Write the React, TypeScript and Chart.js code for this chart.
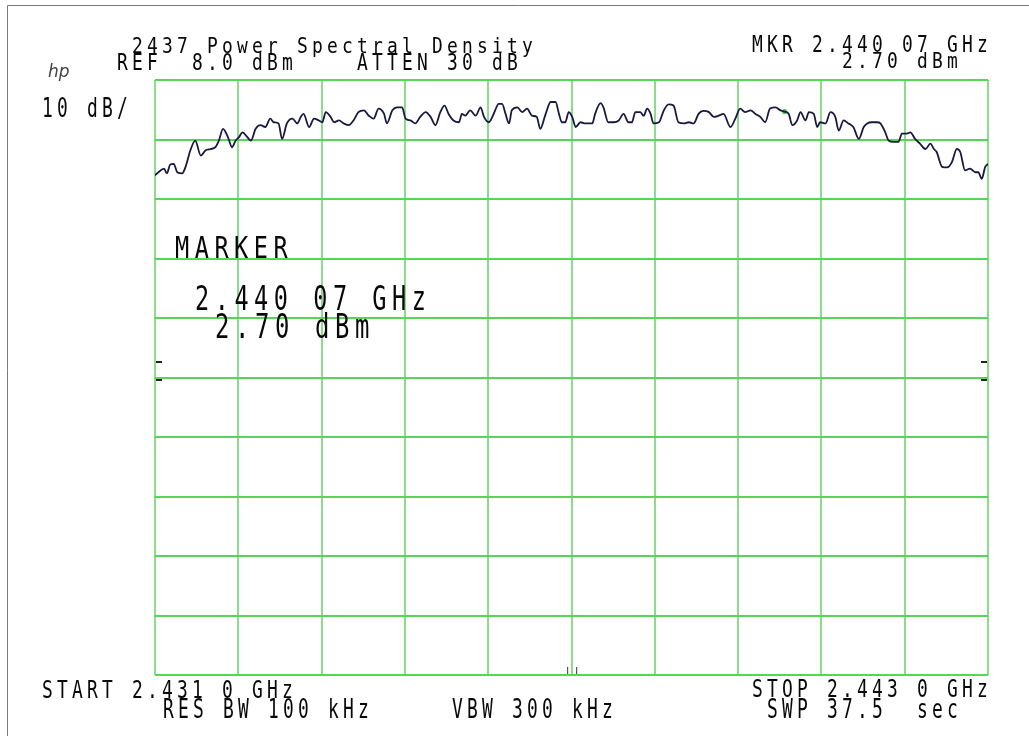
import React, { useEffect, useRef } from "react";
import { Chart, registerables } from "chart.js";

Chart.register(...registerables);

// ---- data (frequency in MHz, level in dBm) ----
const traceFreqMHz: number[] = [
  2431.00, 2431.08, 2431.13, 2431.17, 2431.22, 2431.27, 2431.32, 2431.39, 2431.44, 2431.51,
  2431.58, 2431.66, 2431.73, 2431.80, 2431.87, 2431.92, 2431.98, 2432.05, 2432.11, 2432.16,
  2432.21, 2432.26, 2432.33, 2432.38, 2432.45, 2432.52, 2432.59, 2432.66, 2432.71, 2432.78,
  2432.83, 2432.90, 2432.98, 2433.05, 2433.10, 2433.14, 2433.22, 2433.29, 2433.36, 2433.41,
  2433.46, 2433.53, 2433.58, 2433.65, 2433.72, 2433.79, 2433.86, 2433.93, 2434.01, 2434.08,
  2434.15, 2434.22, 2434.30, 2434.34, 2434.42, 2434.49, 2434.56, 2434.61, 2434.68, 2434.75,
  2434.82, 2434.90, 2434.97, 2435.04, 2435.11, 2435.17, 2435.23, 2435.30, 2435.38, 2435.42,
  2435.47, 2435.54, 2435.62, 2435.69, 2435.74, 2435.81, 2435.86, 2435.90, 2435.95, 2436.00,
  2436.05, 2436.10, 2436.14, 2436.22, 2436.29, 2436.36, 2436.43, 2436.50, 2436.55, 2436.62,
  2436.70, 2436.77, 2436.82, 2436.86, 2436.91, 2436.96, 2437.01, 2437.06, 2437.13, 2437.20,
  2437.30, 2437.34, 2437.42, 2437.46, 2437.53, 2437.61, 2437.68, 2437.75, 2437.82, 2437.87,
  2437.92, 2437.99, 2438.04, 2438.09, 2438.14, 2438.18, 2438.26, 2438.33, 2438.40, 2438.47,
  2438.54, 2438.62, 2438.69, 2438.76, 2438.83, 2438.90, 2438.98, 2439.05, 2439.12, 2439.19,
  2439.29, 2439.36, 2439.43, 2439.50, 2439.58, 2439.65, 2439.72, 2439.79, 2439.86, 2439.94,
  2440.01, 2440.07, 2440.13, 2440.18, 2440.25, 2440.30, 2440.37, 2440.42, 2440.49, 2440.54,
  2440.58, 2440.66, 2440.73, 2440.80, 2440.85, 2440.92, 2440.99, 2441.06, 2441.14, 2441.21,
  2441.26, 2441.33, 2441.40, 2441.45, 2441.52, 2441.57, 2441.64, 2441.71, 2441.76, 2441.83,
  2441.88, 2441.95, 2442.02, 2442.10, 2442.17, 2442.22, 2442.26, 2442.34, 2442.41, 2442.48,
  2442.55, 2442.60, 2442.67, 2442.74, 2442.82, 2442.86, 2442.91, 2442.96, 2443.00,
];

const traceLevelDbm: number[] = [
  -8.0, -7.2, -6.9, -7.7, -6.2, -6.1, -7.5, -7.7, -6.6, -3.8,
  -2.2, -4.7, -3.8, -3.6, -3.3, -2.2, -0.2, -1.6, -3.3, -2.2,
  -1.6, -0.8, -1.6, -2.2, -0.2, 0.4, 0.1, 1.5, 0.9, 0.7,
  -1.9, 0.7, 1.5, 0.7, 1.8, 2.3, 0.1, 1.5, 1.2, 0.9,
  2.6, 1.8, 0.9, 1.2, 0.7, 0.4, 1.2, 2.6, 2.9, 2.0,
  1.5, 3.2, 2.3, 0.7, 2.9, 3.4, 3.4, 1.5, 1.2, 0.7,
  1.8, 2.6, 1.8, 0.4, 2.6, 3.7, 2.3, 1.2, 0.9, 2.3,
  2.0, 2.9, 2.0, 3.4, 1.8, 0.9, 1.8, 2.9, 4.0, 4.0,
  2.3, 0.7, 2.9, 3.4, 2.6, 3.2, 2.0, 1.8, -0.2, 2.0,
  4.3, 4.3, 2.3, 0.9, 0.9, 2.6, 1.8, 0.1, 0.9, 0.7,
  0.7, 2.3, 4.1, 3.4, 0.9, 0.9, 1.2, 2.3, 0.9, 0.9,
  2.6, 2.6, 2.0, 3.2, 2.3, 0.7, 0.9, 2.9, 3.9, 3.7,
  0.9, 0.7, 0.9, 0.7, 2.3, 2.8, 2.6, 1.8, 2.0, 2.3,
  0.1, 1.5, 3.2, 2.6, 2.9, 2.3, 1.8, 0.9, 3.2, 3.4,
  2.9, 2.7, 2.3, 0.4, 1.2, 2.6, 1.2, 2.6, 2.3, 0.1,
  0.9, 0.7, 2.6, 1.8, -0.5, 1.2, 0.7, 0.1, -1.9, 0.1,
  0.7, 0.9, 0.9, 0.7, -0.8, -2.2, -2.4, -2.4, -1.0, -1.0,
  -0.8, -1.9, -2.7, -3.6, -2.7, -3.6, -4.1, -6.6, -6.7, -5.8,
  -3.6, -4.1, -7.2, -6.9, -7.5, -7.5, -8.6, -6.6, -6.1,
];

const markerFreqMHz = 2440.07;
const markerLevelDbm = 2.7;

// grid divisions: START 2431.0 MHz to STOP 2443.0 MHz, REF 8.0 dBm, 10 dB/div
const xGridMHz: number[] = [2431.0, 2432.2, 2433.4, 2434.6, 2435.8, 2437.0, 2438.2, 2439.4, 2440.6, 2441.8, 2443.0];
const yGridDbm: number[] = [8, -2, -12, -22, -32, -42, -52, -62, -72, -82, -92];

// small display marks on the edges of the graticule
const edgeMarkDbm: number[] = [-39.4, -42.4];
const bottomMarkMHz: number[] = [2436.94, 2437.07];

// annotation texts: [text, left, baseline, cap height, pitch]
type Label = [string, number, number, number, number];
const labels: Label[] = [
  ["2437 Power Spectral Density", 132, 53, 16, 15],
  ["REF  8.0 dBm", 117, 70, 17, 15],
  ["ATTEN 30 dB", 357, 70, 17, 15],
  ["MKR 2.440 07 GHz", 752, 52, 17, 15],
  ["2.70 dBm", 842, 68, 16, 15],
  ["10 dB/", 42, 117, 19, 15],
  ["MARKER", 175, 258, 22, 19.7],
  ["2.440 07 GHz", 195, 310, 24, 19.7],
  ["2.70 dBm", 215, 338, 24, 20],
  ["START 2.431 0 GHz", 42, 698, 18, 15],
  ["RES BW 100 kHz", 163, 718, 19, 15],
  ["VBW 300 kHz", 452, 718, 19, 15],
  ["STOP 2.443 0 GHz", 752, 697, 18, 15],
  ["SWP 37.5  sec", 767, 718, 19, 15],
];

const MONO = '"DejaVu Sans Mono", "Liberation Mono", monospace';

function drawPlotterText(ctx: CanvasRenderingContext2D, l: Label) {
  const [s, left, base, cap, pitch] = l;
  const size = cap / 0.73;
  const sx = Math.min(0.85, (pitch * 0.72) / (0.602 * size));
  ctx.font = `${size}px ${MONO}`;
  ctx.textBaseline = "alphabetic";
  ctx.textAlign = "left";
  for (let i = 0; i < s.length; i++) {
    const ch = s[i];
    if (ch === " ") continue;
    ctx.save();
    ctx.translate(left + i * pitch, base);
    ctx.scale(sx, 1);
    ctx.fillText(ch, 0, 0);
    ctx.restore();
  }
}

const decorPlugin = {
  id: "decor",
  beforeDraw(chart: any) {
    const ctx = chart.ctx as CanvasRenderingContext2D;
    ctx.save();
    ctx.fillStyle = "#ffffff";
    ctx.fillRect(0, 0, chart.width, chart.height);
    ctx.strokeStyle = "#7a7a7a";
    ctx.lineWidth = 1;
    ctx.beginPath();
    ctx.moveTo(7.5, chart.height);
    ctx.lineTo(7.5, 5.5);
    ctx.lineTo(chart.width, 5.5);
    ctx.stroke();
    ctx.restore();
  },
  afterDraw(chart: any) {
    const ctx = chart.ctx as CanvasRenderingContext2D;
    const xs = chart.scales.x;
    const ys = chart.scales.y;
    const area = chart.chartArea;
    ctx.save();
    // edge marks
    ctx.fillStyle = "#222";
    edgeMarkDbm.forEach((v) => {
      const y = Math.round(ys.getPixelForValue(v));
      ctx.fillRect(area.left + 1, y - 1, 6, 2);
      ctx.fillRect(area.right - 7, y - 1, 6, 2);
    });
    ctx.fillStyle = "#555";
    bottomMarkMHz.forEach((f) => {
      const x = Math.round(xs.getPixelForValue(f));
      ctx.fillRect(x, area.bottom - 8, 1.2, 7);
    });
    // hp logo
    ctx.fillStyle = "#444";
    ctx.font = `italic 17px "DejaVu Sans", sans-serif`;
    ctx.fillText("hp", 48, 77);
    // texts
    ctx.fillStyle = "#080808";
    labels.forEach((l) => drawPlotterText(ctx, l));
    ctx.restore();
  },
};

export default function App() {
  const ref = useRef<HTMLCanvasElement | null>(null);

  useEffect(() => {
    const canvas = ref.current;
    if (!canvas) return;
    const chart = new Chart(canvas, {
      type: "line",
      data: {
        datasets: [
          {
            data: traceFreqMHz.map((f, i) => ({ x: f, y: traceLevelDbm[i] })),
            borderColor: "#19193f",
            borderWidth: 1.8,
            pointRadius: 0,
            cubicInterpolationMode: "monotone",
            fill: false,
          },
          {
            data: [{ x: markerFreqMHz, y: markerLevelDbm }],
            showLine: false,
            pointRadius: 2.6,
            pointBackgroundColor: "#45c845",
            pointBorderWidth: 0,
          },
        ],
      },
      options: {
        responsive: false,
        animation: false,
        devicePixelRatio: 1,
        layout: { padding: { left: 155, top: 80, right: 41, bottom: 61 } },
        plugins: { legend: { display: false }, tooltip: { enabled: false } },
        scales: {
          x: {
            type: "linear",
            min: xGridMHz[0],
            max: xGridMHz[xGridMHz.length - 1],
            afterBuildTicks: (axis: any) => {
              axis.ticks = xGridMHz.map((v) => ({ value: v }));
            },
            ticks: { display: false },
            grid: { color: "#8edb8e", lineWidth: 2, drawTicks: false },
            border: { display: false },
          },
          y: {
            type: "linear",
            min: yGridDbm[yGridDbm.length - 1],
            max: yGridDbm[0],
            afterBuildTicks: (axis: any) => {
              axis.ticks = yGridDbm.map((v) => ({ value: v }));
            },
            ticks: { display: false },
            grid: { color: "#55d655", lineWidth: 2, drawTicks: false },
            border: { display: false },
          },
        },
      } as any,
      plugins: [decorPlugin],
    });
    return () => chart.destroy();
  }, []);

  return (
    <div style={{ position: "fixed", left: 0, top: 0, width: 1029, height: 736, background: "#fff" }}>
      <canvas ref={ref} width={1029} height={736} style={{ display: "block", width: 1029, height: 736 }} />
    </div>
  );
}
